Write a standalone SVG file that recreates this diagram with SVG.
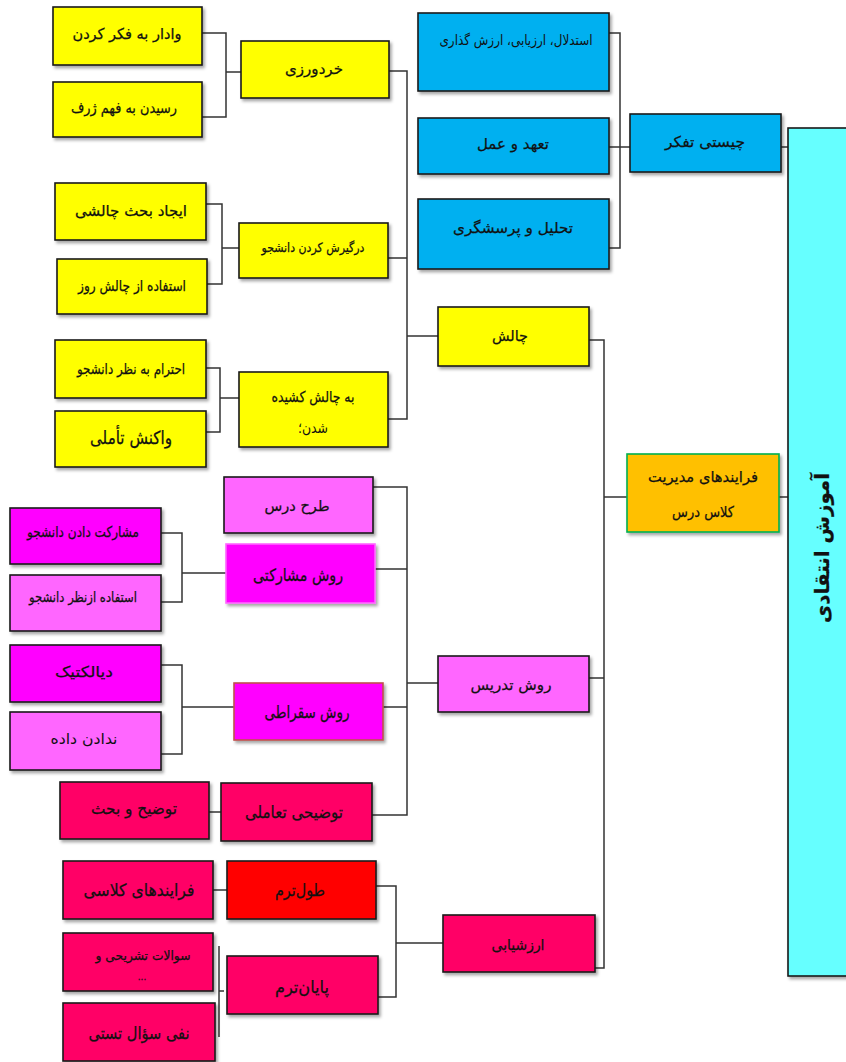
<svg xmlns="http://www.w3.org/2000/svg" width="846" height="1062" viewBox="0 0 846 1062">
<style>
.b{stroke:#1a1a1a;stroke-width:1.6;filter:url(#sh)}
.y{fill:#FFFF00}.bl{fill:#00B0F0}.cy{fill:#66FFFF}.or{fill:#FFC000;stroke:#00B050}
.lp{fill:#FF66FF}.mg{fill:#FF00FF}.cr{fill:#FF0066}.rd{fill:#FF0000}
.t{font-family:"DejaVu Sans",sans-serif;font-size:15px;fill:#111;text-anchor:middle;stroke:#111;stroke-width:0.25}
.c path{fill:none;stroke:#333;stroke-width:1.5}
</style>
<defs>
<filter id="sh" x="-10%" y="-10%" width="130%" height="140%">
<feDropShadow dx="2" dy="2.5" stdDeviation="1.5" flood-color="#000" flood-opacity="0.35"/>
</filter>
</defs>
<rect width="846" height="1062" fill="#fff"/>
<g class="c" id="connectors">
<path d="M202,33 H226 V117 H202 M226,72 H241"/>
<path d="M206,204 H222 V284 H207 M222,248 H239"/>
<path d="M206,368 H220 V432 H206 M220,398 H239"/>
<path d="M389,71 H407 V419 H388 M388,258 H407 M407,336 H438"/>
<path d="M609,33 H620 V248 H609 M609,147 H630 M781,147 H788"/>
<path d="M589,340 H604 V968 H595 M604,497 H627 M779,497 H790 M589,678 H604"/>
<path d="M373,487 H407 V815 H372 M375,569 H407 M383,707 H407 M407,683 H438"/>
<path d="M161,533 H182 V602 H161 M182,573 H226"/>
<path d="M161,665 H182 V754 H161 M182,707 H234"/>
<path d="M209,812 H221"/>
<path d="M213,890 H227"/>
<path d="M219,946 V1037 M219,991 H224"/>
<path d="M376,886 H396 V997 H378 M396,943 H443"/>
</g>
<g id="n-root"><rect class="b cy" x="788" y="128" width="64" height="848"/>
<text class="t" transform="translate(822,548) rotate(-90)" dy="7" style="font-size:20px;font-weight:bold" textLength="150" lengthAdjust="spacingAndGlyphs">آموزش انتقادی</text></g>
<g id="n-process"><rect class="b or" x="627" y="454" width="152" height="78"/>
<text class="t" x="703" y="482" textLength="110" lengthAdjust="spacingAndGlyphs">فرایندهای مدیریت</text>
<text class="t" x="703" y="517" textLength="62" lengthAdjust="spacingAndGlyphs">کلاس درس</text></g>
<g id="n-chisti"><rect class="b bl" x="630" y="114" width="151" height="58"/>
<text class="t" x="705" y="147" textLength="80" lengthAdjust="spacingAndGlyphs">چیستی تفکر</text></g>
<g id="n-estedlal"><rect class="b bl" x="418" y="13" width="191" height="78"/>
<text class="t" x="516" y="45" style="font-size:14px;stroke-width:0" textLength="153" lengthAdjust="spacingAndGlyphs">استدلال، ارزیابی، ارزش گذاری</text></g>
<g id="n-taahod"><rect class="b bl" x="418" y="118" width="191" height="56"/>
<text class="t" x="513" y="149" textLength="72" lengthAdjust="spacingAndGlyphs">تعهد و عمل</text></g>
<g id="n-tahlil"><rect class="b bl" x="418" y="199" width="191" height="70"/>
<text class="t" x="513" y="233" textLength="120" lengthAdjust="spacingAndGlyphs">تحلیل و پرسشگری</text></g>
<g id="n-chalesh"><rect class="b y" x="438" y="307" width="151" height="59"/>
<text class="t" x="510" y="341" textLength="36" lengthAdjust="spacingAndGlyphs">چالش</text></g>
<g id="n-kherad"><rect class="b y" x="241" y="41" width="148" height="57"/>
<text class="t" x="314" y="74" textLength="58" lengthAdjust="spacingAndGlyphs">خردورزی</text></g>
<g id="n-vadar"><rect class="b y" x="53" y="7" width="149" height="58"/>
<text class="t" x="127" y="39" textLength="109" lengthAdjust="spacingAndGlyphs">وادار به فکر کردن</text></g>
<g id="n-residan"><rect class="b y" x="53" y="82" width="149" height="55"/>
<text class="t" x="124" y="113" textLength="106" lengthAdjust="spacingAndGlyphs">رسیدن  به فهم ژرف</text></g>
<g id="n-dargir"><rect class="b y" x="239" y="223" width="149" height="55"/>
<text class="t" x="313" y="252" style="font-size:13px" textLength="103" lengthAdjust="spacingAndGlyphs">درگیرش کردن دانشجو</text></g>
<g id="n-ijad"><rect class="b y" x="55" y="183" width="151" height="57"/>
<text class="t" x="131" y="216" textLength="112" lengthAdjust="spacingAndGlyphs">ایجاد بحث چالشی</text></g>
<g id="n-estefade-ruz"><rect class="b y" x="57" y="259" width="150" height="55"/>
<text class="t" x="132" y="291" textLength="108" lengthAdjust="spacingAndGlyphs">استفاده  از چالش روز</text></g>
<g id="n-bechalesh"><rect class="b y" x="239" y="372" width="149" height="75"/>
<text class="t" x="313" y="402" textLength="83" lengthAdjust="spacingAndGlyphs">به چالش کشیده</text>
<text class="t" x="313" y="433" style="stroke-width:0" textLength="30" lengthAdjust="spacingAndGlyphs">شدن؛</text></g>
<g id="n-ehteram"><rect class="b y" x="55" y="340" width="151" height="58"/>
<text class="t" x="131" y="374" textLength="108" lengthAdjust="spacingAndGlyphs">احترام به نظر دانشجو</text></g>
<g id="n-vakonesh"><rect class="b y" x="55" y="411" width="151" height="56"/>
<text class="t" x="131" y="444" style="font-size:18px" textLength="82" lengthAdjust="spacingAndGlyphs">واکنش تأملی</text></g>
<g id="n-tarh"><rect class="b lp" x="224" y="477" width="149" height="56"/>
<text class="t" x="297" y="511" textLength="65" lengthAdjust="spacingAndGlyphs">طرح درس</text></g>
<g id="n-moshareki"><rect class="b mg" x="226" y="544" width="149" height="59" style="stroke:#FF66FF"/>
<text class="t" x="298" y="581" style="font-size:17px" textLength="90" lengthAdjust="spacingAndGlyphs">روش مشارکتی</text></g>
<g id="n-mosharekat-dadan"><rect class="b mg" x="10" y="508" width="151" height="56"/>
<text class="t" x="83" y="537" textLength="112" lengthAdjust="spacingAndGlyphs">مشارکت دادن دانشجو</text></g>
<g id="n-estefade-nazar"><rect class="b lp" x="10" y="575" width="151" height="56"/>
<text class="t" x="83" y="602" style="font-size:14px" textLength="108" lengthAdjust="spacingAndGlyphs">استفاده  ازنظر دانشجو</text></g>
<g id="n-dialektik"><rect class="b mg" x="10" y="645" width="151" height="57"/>
<text class="t" x="84" y="677" textLength="58" lengthAdjust="spacingAndGlyphs">دیالکتیک</text></g>
<g id="n-nadadan"><rect class="b lp" x="10" y="712" width="151" height="58"/>
<text class="t" x="84" y="744" style="stroke-width:0" textLength="67" lengthAdjust="spacingAndGlyphs">ندادن داده</text></g>
<g id="n-soghrat"><rect class="b mg" x="234" y="683" width="149" height="57" style="stroke:#C0504D"/>
<text class="t" x="307" y="718" style="font-size:17px" textLength="85" lengthAdjust="spacingAndGlyphs">روش سقراطی</text></g>
<g id="n-tadris"><rect class="b lp" x="438" y="656" width="151" height="56"/>
<text class="t" x="511" y="690" textLength="81" lengthAdjust="spacingAndGlyphs">روش تدریس</text></g>
<g id="n-tozih-bahs"><rect class="b cr" x="60" y="782" width="149" height="57"/>
<text class="t" x="134" y="814" style="font-size:16px" textLength="86" lengthAdjust="spacingAndGlyphs">توضیح و بحث</text></g>
<g id="n-tozihi"><rect class="b cr" x="221" y="783" width="151" height="58"/>
<text class="t" x="294" y="818" style="font-size:17px" textLength="98" lengthAdjust="spacingAndGlyphs">توضیحی تعاملی</text></g>
<g id="n-farayand-kelasi"><rect class="b cr" x="63" y="861" width="150" height="58"/>
<text class="t" x="139" y="896" style="font-size:17px" textLength="111" lengthAdjust="spacingAndGlyphs">فرایندهای کلاسی</text></g>
<g id="n-tool"><rect class="b rd" x="227" y="861" width="149" height="58"/>
<text class="t" x="300" y="896" style="font-size:17px" textLength="50" lengthAdjust="spacingAndGlyphs">طول‌ترم</text></g>
<g id="n-soalat"><rect class="b cr" x="63" y="933" width="150" height="58"/>
<text class="t" x="143" y="960" style="font-size:13px" textLength="95" lengthAdjust="spacingAndGlyphs">سوالات تشریحی و</text>
<text class="t" x="142" y="980" style="font-size:9px">...</text></g>
<g id="n-nafy"><rect class="b cr" x="63" y="1003" width="152" height="58"/>
<text class="t" x="139" y="1039" style="font-size:17px" textLength="101" lengthAdjust="spacingAndGlyphs">نفی سؤال تستی</text></g>
<g id="n-payan"><rect class="b cr" x="227" y="956" width="151" height="58"/>
<text class="t" x="302" y="993" style="font-size:17px" textLength="54" lengthAdjust="spacingAndGlyphs">پایان‌ترم</text></g>
<g id="n-arzeshyabi"><rect class="b cr" x="443" y="915" width="152" height="57"/>
<text class="t" x="518" y="950" textLength="53" lengthAdjust="spacingAndGlyphs">ارزشیابی</text></g>
</svg>
